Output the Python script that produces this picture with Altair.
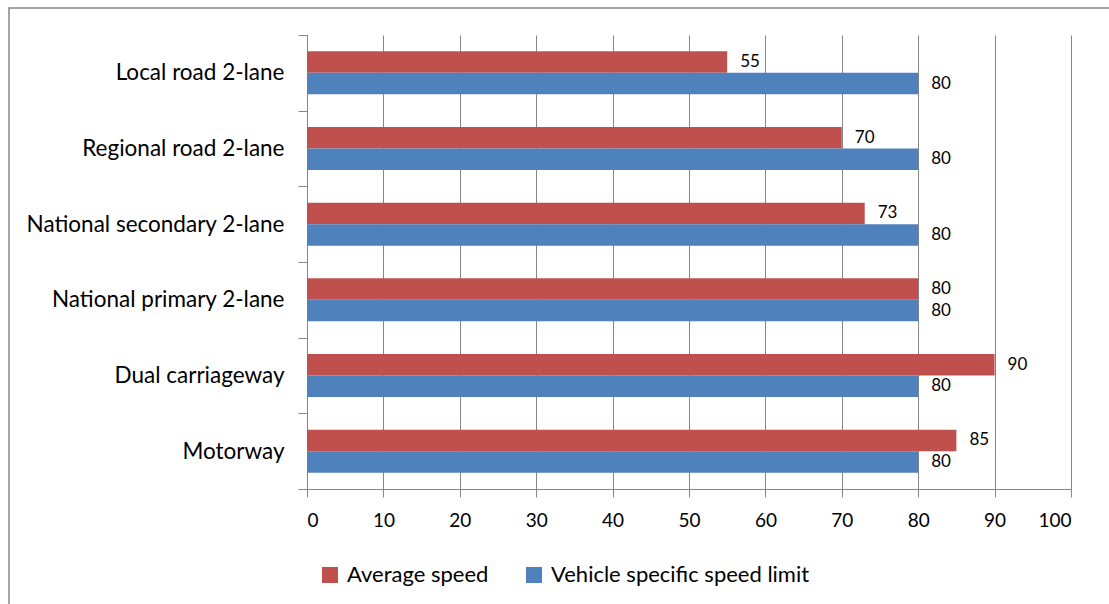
import altair as alt
import pandas as pd

# Road types, top to bottom
categories = [
    "Local road 2-lane",
    "Regional road 2-lane",
    "National secondary 2-lane",
    "National primary 2-lane",
    "Dual carriageway",
    "Motorway",
]
series_names = ["Average speed", "Vehicle specific speed limit"]
average_speed = [55, 70, 73, 80, 90, 85]
speed_limit = [80, 80, 80, 80, 80, 80]
x_ticks = [0, 10, 20, 30, 40, 50, 60, 70, 80, 90, 100]

rows = []
for cat, a, s in zip(categories, average_speed, speed_limit):
    rows.append({"road": cat, "series": series_names[0], "speed": a})
    rows.append({"road": cat, "series": series_names[1], "speed": s})
df = pd.DataFrame(rows)

FONT = "Lato"
GRAY = "#868686"
W, H = 764, 454
PAD = {"left": 307, "top": 35, "right": 38, "bottom": 115}

y_enc = alt.Y(
    "road:N",
    sort=categories,
    title=None,
    scale=alt.Scale(paddingInner=0, paddingOuter=0),
    axis=alt.Axis(
        tickBand="extent",
        grid=False,
        domainColor=GRAY,
        tickColor=GRAY,
        tickSize=9,
        labelPadding=14,
        labelFont=FONT,
        labelFontSize=22.5,
        labelColor="#000000",
        labelLimit=400,
    ),
)
y_off = alt.YOffset(
    "series:N",
    sort=series_names,
    scale=alt.Scale(paddingInner=0, paddingOuter=0.76),
)
x_enc = alt.X(
    "speed:Q",
    title=None,
    scale=alt.Scale(domain=[0, 100], nice=False),
    axis=alt.Axis(
        values=x_ticks,
        grid=True,
        gridColor=GRAY,
        domainColor=GRAY,
        tickColor=GRAY,
        tickSize=8,
        labelPadding=14,
        labelFont=FONT,
        labelFontSize=19,
        labelColor="#000000",
    ),
)

base = alt.Chart(df)

bars = base.mark_bar().encode(
    x=x_enc,
    y=y_enc,
    yOffset=y_off,
    color=alt.Color(
        "series:N",
        sort=series_names,
        scale=alt.Scale(domain=series_names, range=["#C0504D", "#4F81BD"]),
        legend=alt.Legend(
            title=None,
            orient="none",
            legendX=12,
            legendY=529,
            direction="horizontal",
            symbolType="square",
            symbolSize=256,
            symbolStrokeWidth=0,
            labelFont=FONT,
            labelFontSize=22,
            labelColor="#000000",
            labelOffset=6,
            columnPadding=34,
            labelLimit=400,
        ),
    ),
)

labels = base.mark_text(
    align="left", baseline="middle", dx=13, font=FONT, fontSize=17, color="#000000"
).encode(
    x="speed:Q",
    y=alt.Y("road:N", sort=categories),
    yOffset=alt.YOffset("series:N", sort=series_names),
    text="speed:Q",
)

# outer chart frame
frame = alt.Chart(pd.DataFrame({"f": [0]})).mark_rect(
    filled=False, stroke=GRAY, strokeWidth=1.5
).encode(
    x=alt.value(9 - PAD["left"]),
    x2=alt.value(1200),
    y=alt.value(8 - PAD["top"]),
    y2=alt.value(700),
)

chart = (
    alt.layer(bars, labels, frame)
    .properties(
        width=W,
        height=H,
        autosize=alt.AutoSizeParams(type="none"),
        padding=PAD,
        background="#ffffff",
    )
    .configure_view(stroke=None)
)

chart.save("out.html", embed_options={"renderer": "svg", "actions": False})
